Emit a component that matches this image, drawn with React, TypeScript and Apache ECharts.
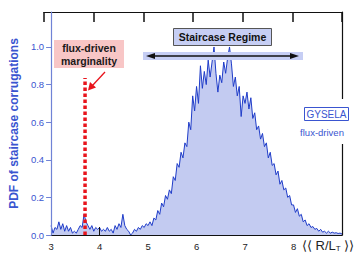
import React, { useEffect, useRef } from "react";
import * as echarts from "echarts";

// Sampling grid of the PDF curve: x from 3.00 to 9.00 in steps of 0.04
const xStart = 3.0;
const xStep = 0.04;

// PDF values, segment by segment
const pdf3 = [0.05, 0.01, 0.04, 0.03, 0.07, 0.03, 0.06, 0.02, 0.05, 0.02, 0.04, 0.01, 0.02, 0.01, 0.03, 0.05, 0.04, 0.11, 0.07, 0.05, 0.03, 0.05, 0.02, 0.04, 0.03];
const pdf4 = [0.04, 0.02, 0.03, 0.02, 0.04, 0.02, 0.03, 0.01, 0.05, 0.03, 0.06, 0.04, 0.11, 0.05, 0.03, 0.02, 0.0, 0.01, 0.03, 0.02, 0.04, 0.03, 0.05, 0.04, 0.06];
const pdf5 = [0.05, 0.07, 0.05, 0.09, 0.08, 0.13, 0.11, 0.17, 0.15, 0.21, 0.19, 0.24, 0.22, 0.31, 0.29, 0.38, 0.36, 0.44, 0.41, 0.49, 0.47, 0.6, 0.56, 0.74, 0.66];
const pdf6 = [0.79, 0.7, 0.9, 0.78, 0.87, 0.8, 0.93, 0.84, 0.92, 1.0, 0.86, 0.76, 0.85, 0.81, 0.92, 0.86, 0.94, 1.0, 0.91, 0.79, 0.84, 0.74, 0.79, 0.63, 0.74];
const pdf7 = [0.7, 0.76, 0.67, 0.73, 0.62, 0.65, 0.56, 0.58, 0.51, 0.54, 0.47, 0.49, 0.41, 0.44, 0.37, 0.38, 0.32, 0.34, 0.27, 0.29, 0.24, 0.25, 0.2, 0.21, 0.16];
const pdf8 = [0.16, 0.12, 0.14, 0.1, 0.11, 0.07, 0.08, 0.05, 0.06, 0.04, 0.045, 0.03, 0.035, 0.02, 0.03, 0.015, 0.02, 0.01, 0.02, 0.01, 0.015, 0.01, 0.012, 0.008, 0.01, 0.005];

// Flux-driven marginality marker
const marginalityX = 3.7;
const marginalityTop = 0.835;

const xTopTicks = [3, 4, 5, 6, 7, 8, 9];
const xBottomTicks = [3, 4, 9];
const xLabels = [3, 4, 5, 6, 7, 8];
const yTicks = [0, 0.2, 0.4, 0.6, 0.8, 1.0];

const BLUE = "#3a55d0";
const FONT = "Liberation Sans, Arial, Helvetica, sans-serif";

export default function App() {
  const ref = useRef<HTMLDivElement>(null);
  useEffect(() => {
    document.body.style.margin = "0";
    if (!ref.current) return;
    const chart = echarts.init(ref.current, undefined, { renderer: "svg" });
    const values = [...pdf3, ...pdf4, ...pdf5, ...pdf6, ...pdf7, ...pdf8];
    const data = values.map((v, i) => [+(xStart + i * xStep).toFixed(2), v]);

    const gridBox = { left: 44, right: 15, top: 12, bottom: 24 };
    const arrowY = 56;
    chart.setOption({
      animation: false,
      grid: [{ ...gridBox }, { ...gridBox }],
      xAxis: [
        {
          type: "value",
          gridIndex: 0,
          position: "bottom",
          min: 3,
          max: 9,
          interval: 1,
          z: 5,
          splitLine: { show: false },
          axisLine: { show: true, onZero: false, lineStyle: { color: "#111", width: 1.2 } },
          axisTick: { show: true, inside: true, length: 8, customValues: xBottomTicks, lineStyle: { color: "#111" } },
          axisLabel: {
            customValues: xLabels,
            margin: 6,
            color: "#222",
            fontSize: 9.5,
            fontFamily: FONT,
          },
        },
        {
          type: "value",
          gridIndex: 1,
          position: "top",
          min: 3,
          max: 9,
          interval: 1,
          z: 5,
          splitLine: { show: false },
          axisLine: { show: true, onZero: false, lineStyle: { color: "#111", width: 1.2 } },
          axisTick: { show: true, inside: true, length: 10, customValues: xTopTicks, lineStyle: { color: "#111", width: 1.5 } },
          axisLabel: { show: false },
        },
      ],
      yAxis: [
        {
          type: "value",
          gridIndex: 0,
          position: "left",
          min: 0,
          max: 1.186,
          z: 6,
          splitLine: { show: false },
          axisLine: { show: true, onZero: false, lineStyle: { color: "#7083d6", width: 1.2 } },
          axisTick: { show: true, inside: false, length: 5, customValues: yTicks, lineStyle: { color: "#7083d6" } },
          axisLabel: {
            customValues: yTicks,
            formatter: (v: number) => v.toFixed(1),
            color: BLUE,
            fontSize: 9.5,
            fontFamily: FONT,
            margin: 7,
          },
          name: "PDF of staircase corrugations",
          nameLocation: "middle",
          nameGap: 26,
          nameRotate: 90,
          nameTextStyle: { color: BLUE, fontSize: 12, fontWeight: "bold", fontFamily: FONT },
        },
        {
          type: "value",
          gridIndex: 1,
          position: "right",
          min: 0,
          max: 1.186,
          z: 5,
          splitLine: { show: false },
          axisLine: { show: true, onZero: false, lineStyle: { color: "#111", width: 1.2 } },
          axisTick: { show: false },
          axisLabel: { show: false },
        },
      ],
      series: [
        {
          type: "line",
          xAxisIndex: 0,
          yAxisIndex: 0,
          data,
          symbol: "none",
          z: 2,
          lineStyle: { color: "#1f3cc8", width: 1 },
          areaStyle: { color: "#c3cbf1", opacity: 1 },
        },
        {
          type: "line",
          xAxisIndex: 0,
          yAxisIndex: 0,
          data: [
            [marginalityX, 0],
            [marginalityX, marginalityTop],
          ],
          symbol: "none",
          z: 4,
          lineStyle: { color: "#e8141c", width: 3.5, type: [3.5, 2.5], cap: "butt" },
        },
        {
          type: "line",
          xAxisIndex: 1,
          yAxisIndex: 1,
          data: [],
          symbol: "none",
        },
      ],
      graphic: [
        // band + double arrow for staircase regime
        { type: "rect", z: 10, shape: { x: 143, y: 52, width: 160, height: 8 }, style: { fill: "#c6cef4" } },
        { type: "line", z: 11, shape: { x1: 150, y1: arrowY, x2: 295, y2: arrowY }, style: { stroke: "#111", lineWidth: 1.6 } },
        { type: "polygon", z: 11, shape: { points: [[146, arrowY], [155, arrowY - 3], [155, arrowY + 3]] }, style: { fill: "#111" } },
        { type: "polygon", z: 11, shape: { points: [[299, arrowY], [290, arrowY - 3], [290, arrowY + 3]] }, style: { fill: "#111" } },
        { type: "rect", z: 10, shape: { x: 173.5, y: 28.5, width: 98, height: 17 }, style: { fill: "#c6cef4", stroke: "#555", lineWidth: 1 } },
        {
          type: "text",
          z: 11,
          x: 222.5,
          y: 37,
          style: { text: "Staircase Regime", fill: "#111", font: `bold 10.5px ${FONT}`, align: "center", verticalAlign: "middle" },
        },
        // flux-driven marginality
        { type: "rect", z: 10, shape: { x: 54, y: 40, width: 70, height: 28 }, style: { fill: "#f8c6c6" } },
        {
          type: "text",
          z: 11,
          x: 89,
          y: 54,
          style: {
            text: "flux-driven\nmarginality",
            fill: "#1a1a1a",
            font: `bold 10.5px ${FONT}`,
            lineHeight: 13,
            align: "center",
            verticalAlign: "middle",
          },
        },
        { type: "line", z: 11, shape: { x1: 105, y1: 72, x2: 92, y2: 86 }, style: { stroke: "#e8141c", lineWidth: 1.3 } },
        { type: "polygon", z: 11, shape: { points: [[88, 90.5], [90, 82], [96, 87.5]] }, style: { fill: "#e8141c" } },
        // GYSELA label
        { type: "rect", z: 10, shape: { x: 335, y: 99, width: 12, height: 45 }, style: { fill: "#fff" } },
        { type: "rect", z: 11, shape: { x: 304.5, y: 107.5, width: 44, height: 13 }, style: { fill: "#fff", stroke: BLUE, lineWidth: 1 } },
        {
          type: "text",
          z: 12,
          x: 326.5,
          y: 114.5,
          style: { text: "GYSELA", fill: BLUE, font: `10px ${FONT}`, align: "center", verticalAlign: "middle" },
        },
        {
          type: "text",
          z: 12,
          x: 322,
          y: 132,
          style: { text: "flux-driven", fill: BLUE, font: `9.5px ${FONT}`, align: "center", verticalAlign: "middle" },
        },
        // x-axis name
        {
          type: "text",
          z: 12,
          x: 302,
          y: 245,
          style: {
            text: "{a|⟨⟨ R/L}{s|T}{a| ⟩⟩}",
            verticalAlign: "middle",
            rich: {
              a: { fontSize: 13, fontFamily: FONT, fill: "#222" },
              s: { fontSize: 8, fontFamily: FONT, fill: "#222", padding: [7, 0, 0, 0] },
            },
          },
        },
      ],
    });
    return () => chart.dispose();
  }, []);
  return <div ref={ref} style={{ width: 357, height: 259 }} />;
}
